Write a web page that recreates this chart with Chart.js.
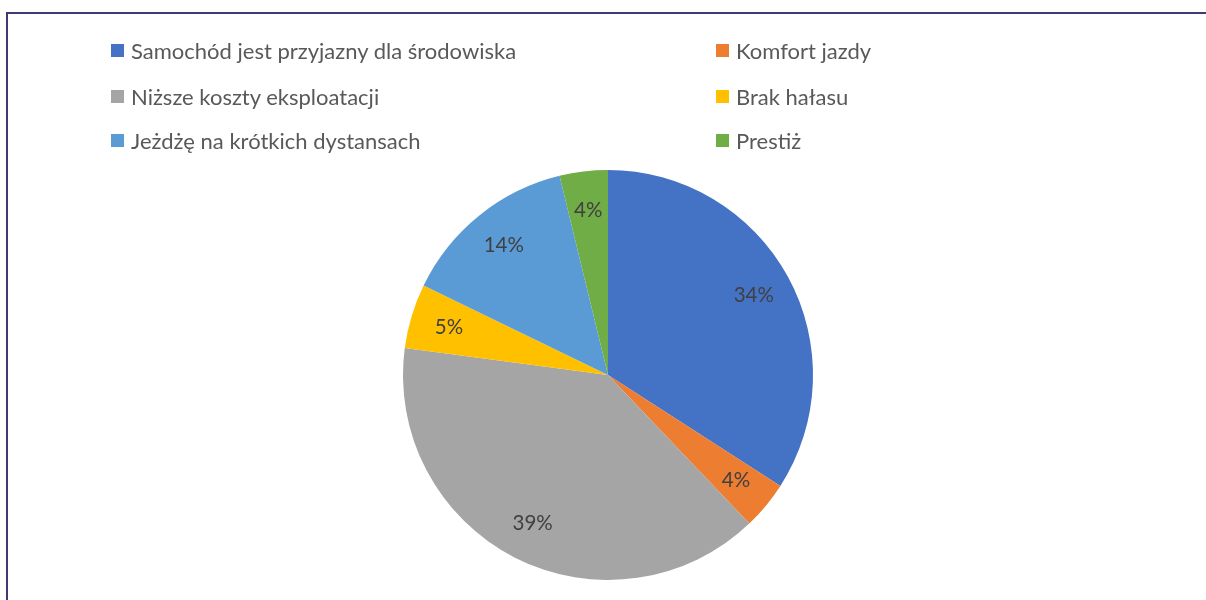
<!DOCTYPE html>
<html>
<head>
<meta charset="utf-8">
<script src="https://cdn.jsdelivr.net/npm/chart.js@4/dist/chart.umd.min.js"></script>
<style>
  html, body { margin: 0; padding: 0; background: #fff; }
  #wrap { position: relative; width: 1206px; height: 600px; overflow: hidden; }
  #frame { position: absolute; left: 6px; top: 12px; width: 1300px; height: 700px;
           border-left: 2px solid #3e3a74; border-top: 2px solid #3e3a74; box-sizing: border-box; }
  canvas { position: absolute; left: 0; top: 0; }
  .lg { position: absolute; font-family: Lato, "Open Sans", sans-serif; font-size: 22px; color: #595959;
        white-space: nowrap; line-height: 26px; }
  .lg span.box { position: absolute; width: 13px; height: 13px; left: 0; top: 6px; }
  .lg span.t { position: absolute; left: 20px; top: 0; }
</style>
</head>
<body>
<div id="wrap">
  <div id="frame"></div>
  <canvas id="c" width="1206" height="600"></canvas>
</div>
<script>
const categories = [
  "Samochód jest przyjazny dla środowiska",
  "Komfort jazdy",
  "Niższe koszty eksploatacji",
  "Brak hałasu",
  "Jeżdżę na krótkich dystansach",
  "Prestiż"
];
const values = [34.1, 3.8, 39.2, 5.1, 14.0, 3.8];
const percentLabels = ["34%", "4%", "39%", "5%", "14%", "4%"];
const colors = ["#4472C4", "#ED7D31", "#A5A5A5", "#FFC000", "#5B9BD5", "#70AD47"];

const wrap = document.getElementById('wrap');
const colX = [111, 716];
const rowY = [38, 84, 128];
categories.forEach((name, i) => {
  const d = document.createElement('div');
  d.className = 'lg';
  d.style.left = colX[i % 2] + 'px';
  d.style.top = rowY[Math.floor(i / 2)] + 'px';
  const b = document.createElement('span'); b.className = 'box'; b.style.background = colors[i];
  const t = document.createElement('span'); t.className = 't'; t.textContent = name;
  d.appendChild(b); d.appendChild(t);
  wrap.appendChild(d);
});

const labelPlugin = {
  id: 'pctLabels',
  afterDatasetsDraw(chart) {
    const ctx = chart.ctx;
    const meta = chart.getDatasetMeta(0);
    ctx.save();
    ctx.font = '20.5px Lato, "Open Sans", sans-serif';
    ctx.fillStyle = '#404040';
    ctx.textAlign = 'center';
    ctx.textBaseline = 'middle';
    meta.data.forEach((arc, i) => {
      const p = arc.getProps(['x', 'y', 'startAngle', 'endAngle', 'outerRadius'], true);
      const mid = (p.startAngle + p.endAngle) / 2;
      const r = p.outerRadius * 0.81;
      ctx.fillText(percentLabels[i], p.x + Math.cos(mid) * r, p.y + Math.sin(mid) * r);
    });
    ctx.restore();
  }
};

new Chart(document.getElementById('c'), {
  type: 'pie',
  data: {
    labels: categories,
    datasets: [{ data: values, backgroundColor: colors, borderWidth: 0 }]
  },
  options: {
    responsive: false,
    animation: false,
    layout: { padding: { top: 170, bottom: 20, left: 10, right: 0 } },
    plugins: { legend: { display: false }, tooltip: { enabled: false } }
  },
  plugins: [labelPlugin]
});
</script>
</body>
</html>
